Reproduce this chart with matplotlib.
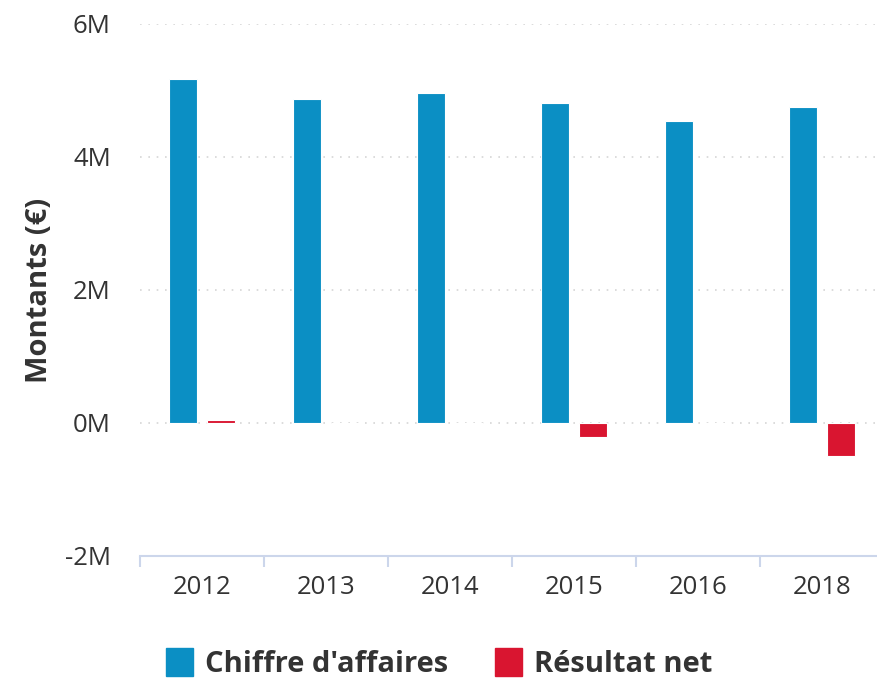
import matplotlib.pyplot as plt
import numpy as np
from matplotlib.ticker import FuncFormatter, FixedLocator
from matplotlib.patches import Patch

plt.rcParams['font.family'] = ['Open Sans', 'DejaVu Sans']

years = ['2012', '2013', '2014', '2015', '2016', '2018']
chiffre_affaires = [5.17e6, 4.87e6, 4.96e6, 4.81e6, 4.54e6, 4.75e6]
resultat_net = [0.05e6, -0.005e6, 0.004e6, -0.21e6, 0.0, -0.49e6]

BLUE = '#0b8fc4'
RED = '#d91530'
TEXT = '#333333'


def main():
    fig = plt.figure(figsize=(8.78, 6.81), dpi=100)
    ax = fig.add_axes([0.1595, 0.1836, 0.8474, 0.7812])

    x = np.arange(len(years))
    w = 0.23
    ax.bar(x - 0.153, chiffre_affaires, w, color=BLUE, edgecolor='white',
           linewidth=0.8, zorder=3)
    ax.bar(x + 0.153, resultat_net, w, color=RED, edgecolor='white',
           linewidth=0.8, zorder=3)

    ax.set_xlim(-0.5, len(years) - 0.5)
    ax.set_ylim(-2e6, 6e6)
    ax.set_yticks([-2e6, 0, 2e6, 4e6, 6e6])
    ax.yaxis.set_major_formatter(FuncFormatter(lambda v, p: '%dM' % round(v / 1e6)))
    ax.set_xticks(x)
    ax.set_xticklabels(years)
    ax.xaxis.set_minor_locator(FixedLocator(np.arange(-0.5, len(years), 1.0)))

    for v in [0, 2e6, 4e6, 6e6]:
        ax.axhline(v, color='#d6d6d6', linestyle=(0, (1, 4)), linewidth=1.2, zorder=1)

    for s in ['top', 'right', 'left']:
        ax.spines[s].set_visible(False)
    ax.spines['bottom'].set_color('#ccd6eb')
    ax.spines['bottom'].set_linewidth(1.5)

    ax.tick_params(axis='y', length=0, pad=21, labelsize=18.5, labelcolor=TEXT)
    ax.tick_params(axis='x', which='major', length=0, pad=14, labelsize=18.5, labelcolor=TEXT)
    ax.tick_params(axis='x', which='minor', length=8, width=1.5, color='#ccd6eb')

    ax.set_ylabel('Montants (€)', fontsize=21, fontweight='bold', color=TEXT, labelpad=8)

    handles = [Patch(color=BLUE, label="Chiffre d'affaires"),
               Patch(color=RED, label='Résultat net')]
    leg = fig.legend(handles=handles, loc='lower center', bbox_to_anchor=(0.5, -0.035),
                     ncol=2, frameon=False, handlelength=0.95, handleheight=1.1,
                     handletextpad=0.4, columnspacing=1.6,
                     prop={'size': 21, 'weight': 'bold'})
    for t in leg.get_texts():
        t.set_color(TEXT)

    fig.savefig('out.png', dpi=100)


if __name__ == '__main__':
    main()
